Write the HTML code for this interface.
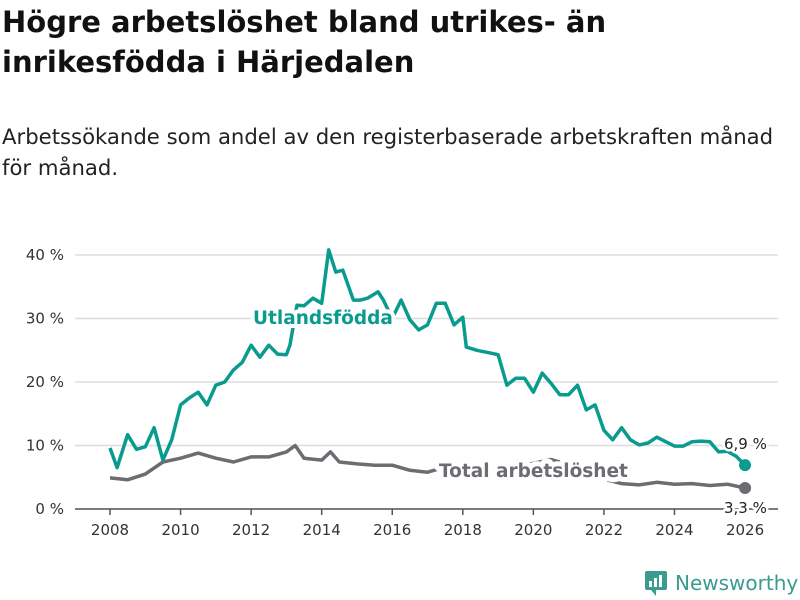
<!DOCTYPE html>
<html><head><meta charset="utf-8"><style>
body{margin:0;width:800px;height:600px;background:#fff;font-family:"DejaVu Sans","Liberation Sans",sans-serif;overflow:hidden;position:relative}
h1{position:absolute;left:2px;top:2px;margin:0;font-size:29px;line-height:40px;font-weight:bold;color:#111;width:798px;white-space:nowrap}
p.sub{position:absolute;left:2px;top:121px;margin:0;font-size:21.2px;line-height:31px;color:#222;width:798px;white-space:nowrap}
svg{position:absolute;left:0;top:0}
</style></head><body>
<h1>Högre arbetslöshet bland utrikes- än<br>inrikesfödda i Härjedalen</h1>
<p class="sub">Arbetssökande som andel av den registerbaserade arbetskraften månad<br>för månad.</p>
<svg id="c" width="800" height="600"></svg>
<script>
const yTicks=[0,10,20,30,40];
const yTickLabels=["0 %","10 %","20 %","30 %","40 %"];
const xTicks=[2008,2010,2012,2014,2016,2018,2020,2022,2024,2026];
const utlT=[2008,2008.2,2008.5,2008.75,2009,2009.25,2009.5,2009.75,2010,2010.25,2010.5,2010.75,2011,2011.25,2011.5,2011.75,2012,2012.25,2012.5,2012.75,2013,2013.1,2013.3,2013.5,2013.75,2014,2014.2,2014.4,2014.6,2014.9,2015.1,2015.3,2015.6,2015.75,2016,2016.25,2016.5,2016.75,2017,2017.25,2017.5,2017.75,2018,2018.1,2018.4,2018.75,2019,2019.25,2019.5,2019.75,2020,2020.25,2020.5,2020.75,2021,2021.25,2021.5,2021.75,2022,2022.25,2022.5,2022.75,2023,2023.25,2023.5,2023.75,2024,2024.25,2024.5,2024.75,2025,2025.25,2025.5,2025.75,2026];
const utlV=[9.6,6.5,11.7,9.4,9.8,12.8,7.7,10.9,16.4,17.5,18.4,16.4,19.5,20,21.9,23.1,25.8,23.9,25.8,24.4,24.3,25.8,32.1,32,33.2,32.4,40.8,37.3,37.6,32.9,32.9,33.2,34.2,32.9,30,32.9,29.8,28.2,29,32.4,32.4,29,30.2,25.5,25,24.6,24.3,19.5,20.6,20.6,18.4,21.4,19.8,18,18,19.5,15.6,16.4,12.4,10.9,12.8,10.9,10.1,10.4,11.3,10.6,9.9,9.9,10.6,10.7,10.6,9,9.1,8.3,6.9];
const totT=[2008,2008.5,2009,2009.5,2010,2010.5,2011,2011.5,2012,2012.5,2013,2013.25,2013.5,2014,2014.25,2014.5,2015,2015.5,2016,2016.5,2017,2017.5,2018,2018.5,2019,2019.5,2020,2020.5,2021,2021.5,2022,2022.5,2023,2023.5,2024,2024.5,2025,2025.5,2026];
const totV=[4.9,4.6,5.5,7.4,8,8.8,8,7.4,8.2,8.2,9,10,8,7.7,9,7.4,7.1,6.9,6.9,6.1,5.8,6.6,6.5,6.3,6.4,6.8,7.2,7.8,7,6,4.7,4,3.8,4.2,3.9,4,3.7,3.9,3.3];
const X=t=>110+(t-2008)*35.28, Y=v=>509-v*6.35;
const svg=document.getElementById('c'),NS='http://www.w3.org/2000/svg';
function mk(tag,a,txt){const e=document.createElementNS(NS,tag);for(const k in a)e.setAttribute(k,a[k]);if(txt!=null)e.textContent=txt;svg.appendChild(e);return e;}
yTicks.forEach((v,i)=>{
 const g=mk('line',{x1:75,x2:778,y1:Y(v),y2:Y(v),stroke:'#ddd','stroke-width':1.5});
 
 
 const t=mk('text',{x:64,y:Y(v)+5,'text-anchor':'end','font-size':15,fill:'#333'},yTickLabels[i]);
 
 
});
const ax=mk('line',{x1:75,x2:778,y1:509,y2:509,stroke:'#555','stroke-width':1.5});


xTicks.forEach(y=>{
 const l=mk('line',{x1:X(y),x2:X(y),y1:509,y2:515,stroke:'#555','stroke-width':1.5});
 
 
 const t=mk('text',{x:X(y),y:535,'text-anchor':'middle','font-size':15,fill:'#333'},String(y));
 
 
});
function line(T,V,col,name){
 const d=T.map((t,i)=>(i?'L':'M')+X(t).toFixed(1)+' '+Y(V[i]).toFixed(1)).join('');
 const p=mk('path',{d:d,fill:'none',stroke:col,'stroke-width':3.5,'stroke-linejoin':'round'});
 
 
 const c=mk('circle',{cx:X(T[T.length-1]),cy:Y(V[V.length-1]),r:6,fill:col});
 
 
}
line(totT,totV,'#6e6c72','total-line');
line(utlT,utlV,'#0a9b8f','utlandsfodda-line');
function lab(x,y,txt,col,name,w,size,anchor,halo){
 mk('text',{x:x,y:y,'font-size':size,'font-weight':w,fill:'#fff',stroke:'#fff','stroke-width':halo||5,'stroke-linejoin':'round','text-anchor':anchor||'start'},txt);
 const t=mk('text',{x:x,y:y,'font-size':size,'font-weight':w,fill:col,'text-anchor':anchor||'start'},txt);
 
 
}
lab(253,324,'Utlandsfödda','#0a9b8f','series-label-utlandsfodda','bold',18.5,'start',8);
lab(439,477,'Total arbetslöshet','#6e6c72','series-label-total','bold',18.5,'start',10);
lab(724,449,'6,9 %','#222','end-value-utlandsfodda','normal',15);
lab(724,513,'3,3 %','#222','end-value-total','normal',15);
</script>
<div style="position:absolute;left:645px;top:570px;height:26px;display:flex;align-items:center;">
<svg width="22" height="26" style="position:static"><rect x="0" y="1" width="22" height="19" rx="2" fill="#3a9b8f"/><path d="M6 20 L11 26 L11 20Z" fill="#3a9b8f"/><rect x="4" y="11" width="3" height="6" fill="#fff"/><rect x="9" y="8" width="3" height="9" fill="#fff"/><rect x="14" y="5" width="3" height="12" fill="#fff"/></svg>
<span style="margin-left:8px;font-size:20px;color:#3a9b8f;font-weight:500">Newsworthy</span></div>
</body></html>
